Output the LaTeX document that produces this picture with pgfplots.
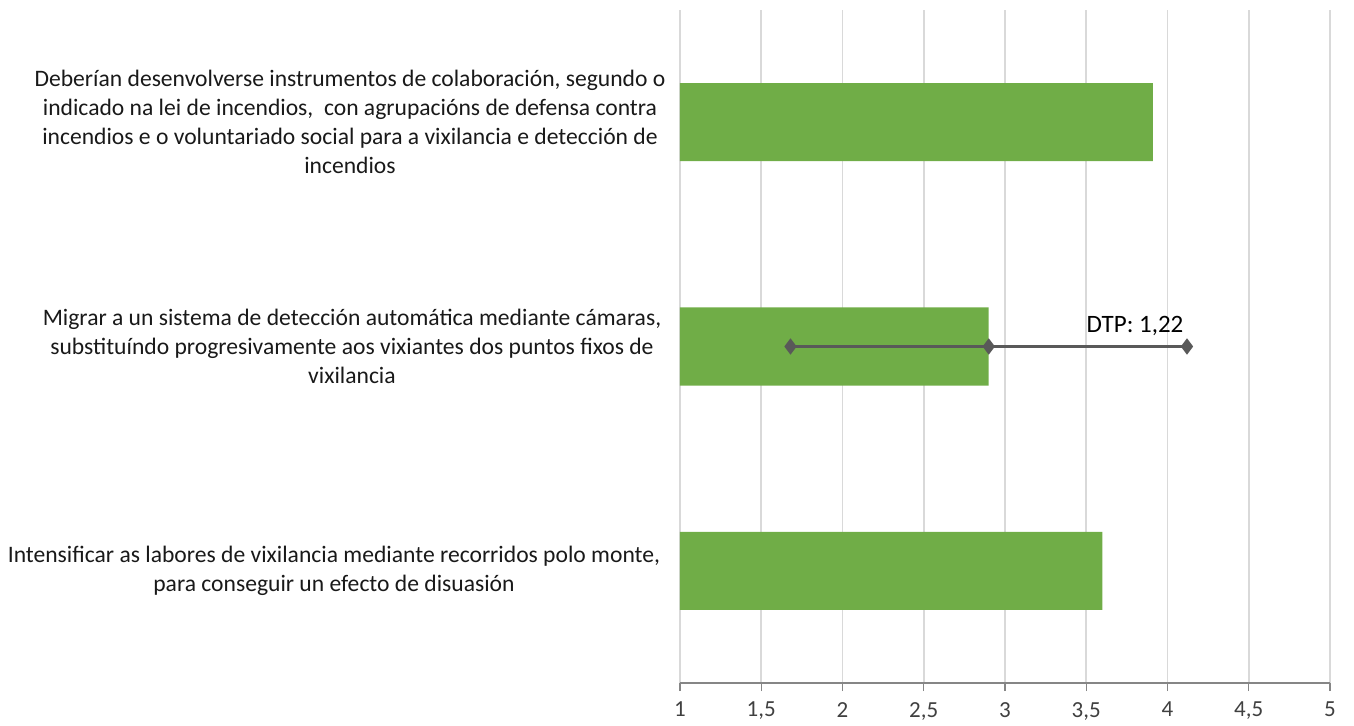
\documentclass[border=0pt]{standalone}
\usepackage{pgfplots}
\pgfplotsset{compat=1.18}
\usepackage{fontspec}
\setmainfont{Carlito}
\definecolor{barg}{HTML}{70AD47}
\definecolor{gridg}{HTML}{D9D9D9}
\definecolor{axg}{HTML}{868686}
\definecolor{errg}{HTML}{595959}
\begin{document}
\begin{tikzpicture}
\path[use as bounding box] (-340pt,-21pt) rectangle (337pt,341.5pt);
\begin{axis}[
  at={(0,0)}, anchor=south west,
  scale only axis,
  width=325pt, height=336.5pt,
  xmin=1, xmax=5, ymin=-0.5, ymax=2.5,
  xtick={1,1.5,...,5},
  xmajorgrids, major grid style={gridg, line width=0.8pt},
  axis x line*=bottom, axis y line=none,
  x axis line style={axg, line width=0.9pt, -},
  xtick style={axg, line width=0.6pt},
  tick align=outside, major tick length=4pt,
  /pgf/number format/.cd, use comma, assume math mode=true, /pgfplots/.cd,
  xticklabel style={font=\fontsize{11.5}{13}\selectfont, text=black!75, yshift=-2pt},
  ytick={0,1,2},
  yticklabels={},
  clip=false,
]
\addplot[xbar, bar width=0.348, fill=barg, draw=none, bar shift=0pt]
  coordinates {(3.60,0) (2.90,1) (3.91,2)};
\addplot[errg, line width=1.3pt, mark=diamond*, mark size=3.7pt, mark options={fill=errg, draw=errg, line width=0.5pt}]
  coordinates {(1.68,1) (2.90,1) (4.12,1)};
\node[font=\fontsize{12.5}{14}\selectfont, anchor=center] at (axis cs:3.80,1.09) {DTP: 1,22};
\begin{scope}[every node/.style={font=\fontsize{11.8}{14.5}\selectfont, align=center, anchor=center, text=black!90}]
\node at (axis cs:1,2) [xshift=-165pt] {Deberían desenvolverse instrumentos de colaboración, segundo o\\indicado na lei de incendios,\ \ con agrupacións de defensa contra\\incendios e o voluntariado social para a vixilancia e detección de\\incendios};
\node at (axis cs:1,1) [xshift=-164pt] {Migrar a un sistema de detección automática mediante cámaras,\\substituíndo progresivamente aos vixiantes dos puntos fixos de\\vixilancia};
\node at (axis cs:1,0) [xshift=-173pt] {Intensificar as labores de vixilancia mediante recorridos polo monte,\\para conseguir un efecto de disuasión};
\end{scope}
\end{axis}
\end{tikzpicture}
\end{document}
